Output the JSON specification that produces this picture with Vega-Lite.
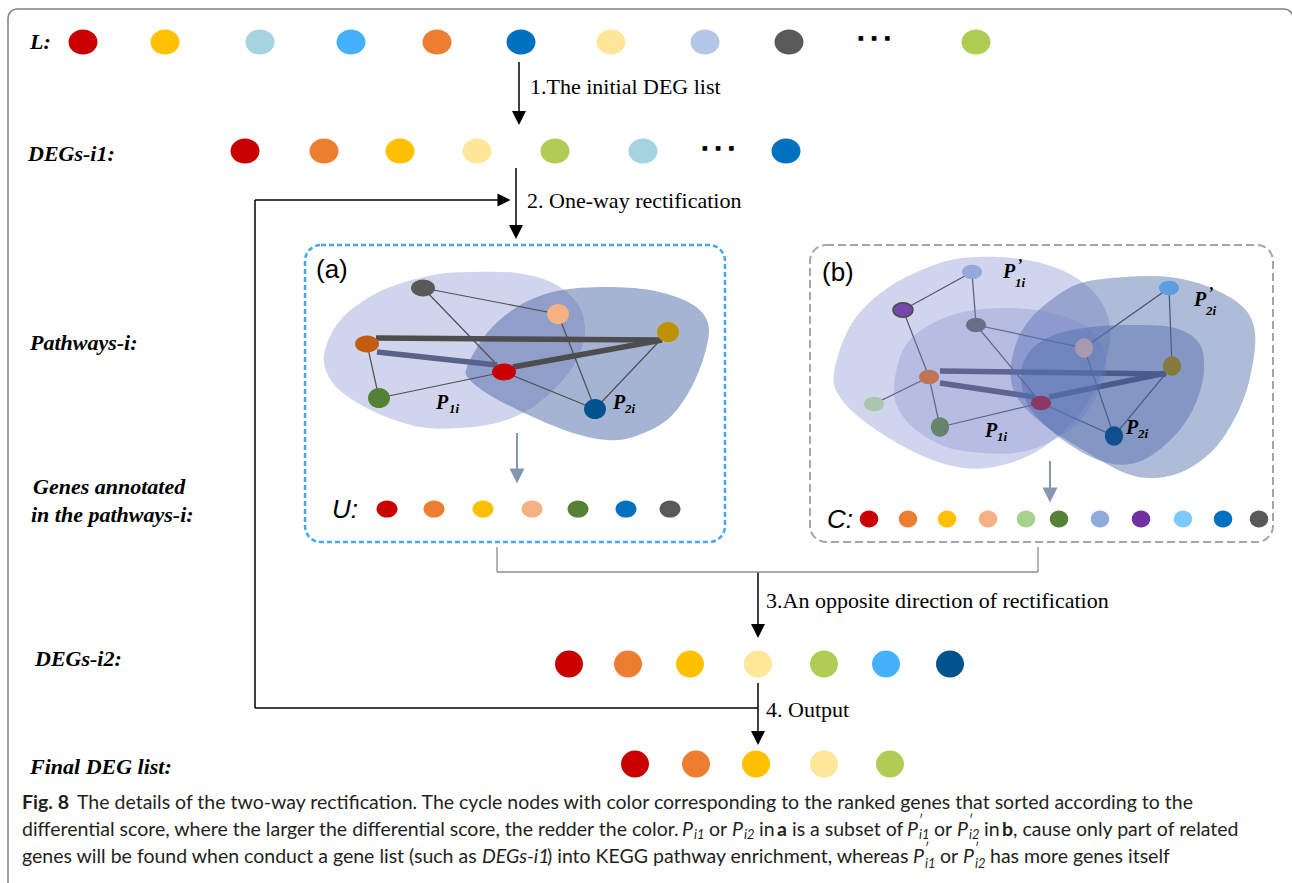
{
"$schema":"https://vega.github.io/schema/vega-lite/v6.json",
"width":1292,"height":883,"autosize":{"type":"none"},"padding":0,"background":"white",
"config":{"view":{"stroke":null}},
"datasets":{
"boxes":[{"kind":"frame","x":8,"y":9,"x2":1293,"y2":960},{"kind":"pa","x":305,"y":245,"x2":725,"y2":542},{"kind":"pb","x":810,"y":245,"x2":1273,"y2":542}],
"segs":[
{"kind":"black","x":519,"y":62,"x2":519,"y2":115},{"kind":"black","x":516,"y":168,"x2":516,"y2":229},{"kind":"black","x":255,"y":200,"x2":502,"y2":200},{"kind":"black","x":255,"y":200,"x2":255,"y2":708},{"kind":"black","x":255,"y":708,"x2":758,"y2":708},{"kind":"black","x":758,"y":572,"x2":758,"y2":627},{"kind":"black","x":758,"y":683,"x2":758,"y2":735},
{"kind":"bracket","x":497,"y":547,"x2":497,"y2":572},{"kind":"bracket","x":497,"y":572,"x2":1038,"y2":572},{"kind":"bracket","x":1038,"y":547,"x2":1038,"y2":572},
{"kind":"arrowblue","x":517,"y":433,"x2":517,"y2":472},{"kind":"arrowblue","x":1050,"y":461,"x2":1050,"y2":490},
{"kind":"thin_a","x":423,"y":288,"x2":558,"y2":314},{"kind":"thin_a","x":423,"y":288,"x2":504,"y2":372},{"kind":"thin_a","x":558,"y":314,"x2":595,"y2":409},{"kind":"thin_a","x":668,"y":332,"x2":595,"y2":409},{"kind":"thin_a","x":504,"y":372,"x2":595,"y2":409},{"kind":"thin_a","x":367,"y":344,"x2":379,"y2":398},{"kind":"thin_a","x":379,"y":398,"x2":504,"y2":372},
{"kind":"thick_a","x":376,"y":338,"x2":662,"y2":340},{"kind":"thick_a","x":513,"y":367,"x2":662,"y2":340},
{"kind":"slate_a","x":377,"y":352,"x2":497,"y2":365},
{"kind":"thin_b","x":903,"y":310,"x2":972,"y2":272},{"kind":"thin_b","x":972,"y":272,"x2":976,"y2":325},{"kind":"thin_b","x":976,"y":325,"x2":1084,"y2":348},{"kind":"thin_b","x":976,"y":325,"x2":1041,"y2":403},{"kind":"thin_b","x":903,"y":310,"x2":929,"y2":377},{"kind":"thin_b","x":929,"y":377,"x2":874,"y2":404},{"kind":"thin_b","x":929,"y":377,"x2":940,"y2":427},{"kind":"thin_b","x":940,"y":427,"x2":1041,"y2":403},{"kind":"thin_b","x":1084,"y":348,"x2":1169,"y2":288},{"kind":"thin_b","x":1169,"y":288,"x2":1172,"y2":366},{"kind":"thin_b","x":1084,"y":348,"x2":1114,"y2":436},{"kind":"thin_b","x":1172,"y":366,"x2":1114,"y2":436},{"kind":"thin_b","x":1041,"y":403,"x2":1114,"y2":436},
{"kind":"thick_b","x":940,"y":371,"x2":1166,"y2":374},{"kind":"thick_b","x":940,"y":383,"x2":1034,"y2":397},{"kind":"thick_b","x":1049,"y":397,"x2":1166,"y2":373}
],
"heads":[{"kind":"black","dir":"down","x":519,"y":118},{"kind":"black","dir":"down","x":516,"y":232},{"kind":"black","dir":"down","x":758,"y":631},{"kind":"black","dir":"down","x":758,"y":738},{"kind":"black","dir":"right","x":504,"y":200},{"kind":"blue","dir":"down","x":517,"y":476},{"kind":"blue","dir":"down","x":1050,"y":495}],
"dots":[
{"row":"L","gene":"red","x":83,"y":42},{"row":"L","gene":"yellow","x":165,"y":42},{"row":"L","gene":"lightblue","x":260,"y":42},{"row":"L","gene":"skyblue","x":351,"y":42},{"row":"L","gene":"orange","x":437,"y":42},{"row":"L","gene":"blue","x":521,"y":42},{"row":"L","gene":"lightyellow","x":611,"y":42},{"row":"L","gene":"lavender","x":705,"y":42},{"row":"L","gene":"darkgray","x":789,"y":42},{"row":"L","gene":"green","x":976,"y":42},
{"row":"i1","gene":"red","x":245,"y":151},{"row":"i1","gene":"orange","x":324,"y":151},{"row":"i1","gene":"yellow","x":400,"y":151},{"row":"i1","gene":"lightyellow","x":477,"y":151},{"row":"i1","gene":"green","x":555,"y":151},{"row":"i1","gene":"lightblue","x":643,"y":151},{"row":"i1","gene":"blue","x":786,"y":151},
{"row":"i2","gene":"red","x":569,"y":664},{"row":"i2","gene":"orange","x":628,"y":664},{"row":"i2","gene":"yellow","x":690,"y":664},{"row":"i2","gene":"lightyellow","x":758,"y":664},{"row":"i2","gene":"green","x":824,"y":664},{"row":"i2","gene":"skyblue","x":886,"y":664},{"row":"i2","gene":"darkblue","x":950,"y":664},
{"row":"final","gene":"red","x":635,"y":764},{"row":"final","gene":"orange","x":696,"y":764},{"row":"final","gene":"yellow","x":756,"y":764},{"row":"final","gene":"lightyellow","x":824,"y":764},{"row":"final","gene":"green","x":890,"y":764},
{"row":"U","gene":"red","x":387,"y":509},{"row":"U","gene":"orange","x":434,"y":509},{"row":"U","gene":"yellow","x":483,"y":509},{"row":"U","gene":"peach","x":532,"y":509},{"row":"U","gene":"darkgreen","x":578,"y":509},{"row":"U","gene":"blue","x":626,"y":509},{"row":"U","gene":"darkgray","x":670,"y":509},
{"row":"C","gene":"red","x":869,"y":519},{"row":"C","gene":"orange","x":908,"y":519},{"row":"C","gene":"yellow","x":947,"y":519},{"row":"C","gene":"peach","x":988,"y":519},{"row":"C","gene":"lightgreen","x":1026,"y":519},{"row":"C","gene":"darkgreen","x":1059,"y":519},{"row":"C","gene":"cornflower","x":1100,"y":519},{"row":"C","gene":"purple","x":1141,"y":519},{"row":"C","gene":"lightsky","x":1183,"y":519},{"row":"C","gene":"blue","x":1223,"y":519},{"row":"C","gene":"darkgray","x":1259,"y":519},
{"row":"na","gene":"darkgray","x":423,"y":288},{"row":"na","gene":"peach","x":558,"y":314},{"row":"na","gene":"brownorange","x":367,"y":344},{"row":"na","gene":"gold","x":668,"y":332},{"row":"na","gene":"red","x":504,"y":372},{"row":"na","gene":"darkgreen","x":379,"y":398},{"row":"na","gene":"navy","x":595,"y":409},
{"row":"nb","gene":"b_lav","x":972,"y":272},{"row":"nb","gene":"b_purple","x":903,"y":310},{"row":"nb","gene":"b_gray","x":976,"y":325},{"row":"nb","gene":"b_peach","x":1084,"y":348},{"row":"nb","gene":"b_sky","x":1169,"y":288},{"row":"nb","gene":"b_gold","x":1172,"y":366},{"row":"nb","gene":"b_orange","x":929,"y":377},{"row":"nb","gene":"b_lgreen","x":874,"y":404},{"row":"nb","gene":"b_green","x":940,"y":427},{"row":"nb","gene":"b_red","x":1041,"y":403},{"row":"nb","gene":"b_navy","x":1114,"y":436}
],
"blobs":[
{"blob":"P1a","i":1,"x":325,"y":350},{"blob":"P1a","i":2,"x":343,"y":317},{"blob":"P1a","i":3,"x":383,"y":290},{"blob":"P1a","i":4,"x":433,"y":275},{"blob":"P1a","i":5,"x":473,"y":272},{"blob":"P1a","i":6,"x":517,"y":273},{"blob":"P1a","i":7,"x":553,"y":283},{"blob":"P1a","i":8,"x":577,"y":303},{"blob":"P1a","i":9,"x":585,"y":327},{"blob":"P1a","i":10,"x":580,"y":353},{"blob":"P1a","i":11,"x":563,"y":380},{"blob":"P1a","i":12,"x":533,"y":407},{"blob":"P1a","i":13,"x":500,"y":422},{"blob":"P1a","i":14,"x":460,"y":428},{"blob":"P1a","i":15,"x":420,"y":427},{"blob":"P1a","i":16,"x":377,"y":413},{"blob":"P1a","i":17,"x":343,"y":393},{"blob":"P1a","i":18,"x":327,"y":373},
{"blob":"P2a","i":1,"x":467,"y":367},{"blob":"P2a","i":2,"x":487,"y":333},{"blob":"P2a","i":3,"x":517,"y":307},{"blob":"P2a","i":4,"x":553,"y":292},{"blob":"P2a","i":5,"x":600,"y":287},{"blob":"P2a","i":6,"x":650,"y":290},{"blob":"P2a","i":7,"x":690,"y":303},{"blob":"P2a","i":8,"x":708,"y":323},{"blob":"P2a","i":9,"x":705,"y":353},{"blob":"P2a","i":10,"x":690,"y":390},{"blob":"P2a","i":11,"x":667,"y":420},{"blob":"P2a","i":12,"x":633,"y":437},{"blob":"P2a","i":13,"x":607,"y":440},{"blob":"P2a","i":14,"x":573,"y":433},{"blob":"P2a","i":15,"x":533,"y":417},{"blob":"P2a","i":16,"x":493,"y":397},{"blob":"P2a","i":17,"x":470,"y":380},
{"blob":"P1pb","i":1,"x":834,"y":373},{"blob":"P1pb","i":2,"x":852,"y":323},{"blob":"P1pb","i":3,"x":889,"y":287},{"blob":"P1pb","i":4,"x":940,"y":263},{"blob":"P1pb","i":5,"x":980,"y":257},{"blob":"P1pb","i":6,"x":1027,"y":260},{"blob":"P1pb","i":7,"x":1068,"y":273},{"blob":"P1pb","i":8,"x":1098,"y":297},{"blob":"P1pb","i":9,"x":1110,"y":327},{"blob":"P1pb","i":10,"x":1106,"y":360},{"blob":"P1pb","i":11,"x":1091,"y":397},{"blob":"P1pb","i":12,"x":1068,"y":427},{"blob":"P1pb","i":13,"x":1034,"y":453},{"blob":"P1pb","i":14,"x":994,"y":467},{"blob":"P1pb","i":15,"x":957,"y":467},{"blob":"P1pb","i":16,"x":916,"y":453},{"blob":"P1pb","i":17,"x":872,"y":427},{"blob":"P1pb","i":18,"x":842,"y":400},
{"blob":"P2pb","i":1,"x":1011,"y":380},{"blob":"P2pb","i":2,"x":1014,"y":350},{"blob":"P2pb","i":3,"x":1027,"y":323},{"blob":"P2pb","i":4,"x":1051,"y":300},{"blob":"P2pb","i":5,"x":1081,"y":283},{"blob":"P2pb","i":6,"x":1125,"y":277},{"blob":"P2pb","i":7,"x":1169,"y":277},{"blob":"P2pb","i":8,"x":1209,"y":287},{"blob":"P2pb","i":9,"x":1243,"y":307},{"blob":"P2pb","i":10,"x":1255,"y":333},{"blob":"P2pb","i":11,"x":1251,"y":373},{"blob":"P2pb","i":12,"x":1239,"y":410},{"blob":"P2pb","i":13,"x":1216,"y":447},{"blob":"P2pb","i":14,"x":1186,"y":470},{"blob":"P2pb","i":15,"x":1155,"y":478},{"blob":"P2pb","i":16,"x":1125,"y":473},{"blob":"P2pb","i":17,"x":1088,"y":453},{"blob":"P2pb","i":18,"x":1047,"y":427},{"blob":"P2pb","i":19,"x":1021,"y":403},
{"blob":"P1b","i":1,"x":894,"y":387},{"blob":"P1b","i":2,"x":903,"y":350},{"blob":"P1b","i":3,"x":926,"y":327},{"blob":"P1b","i":4,"x":963,"y":312},{"blob":"P1b","i":5,"x":1007,"y":308},{"blob":"P1b","i":6,"x":1047,"y":312},{"blob":"P1b","i":7,"x":1081,"y":323},{"blob":"P1b","i":8,"x":1101,"y":343},{"blob":"P1b","i":9,"x":1106,"y":367},{"blob":"P1b","i":10,"x":1098,"y":393},{"blob":"P1b","i":11,"x":1081,"y":420},{"blob":"P1b","i":12,"x":1054,"y":440},{"blob":"P1b","i":13,"x":1021,"y":452},{"blob":"P1b","i":14,"x":984,"y":453},{"blob":"P1b","i":15,"x":946,"y":447},{"blob":"P1b","i":16,"x":916,"y":430},{"blob":"P1b","i":17,"x":899,"y":410},
{"blob":"P2b","i":1,"x":1021,"y":373},{"blob":"P2b","i":2,"x":1031,"y":350},{"blob":"P2b","i":3,"x":1054,"y":335},{"blob":"P2b","i":4,"x":1091,"y":327},{"blob":"P2b","i":5,"x":1135,"y":325},{"blob":"P2b","i":6,"x":1175,"y":328},{"blob":"P2b","i":7,"x":1199,"y":343},{"blob":"P2b","i":8,"x":1204,"y":370},{"blob":"P2b","i":9,"x":1197,"y":400},{"blob":"P2b","i":10,"x":1182,"y":427},{"blob":"P2b","i":11,"x":1159,"y":450},{"blob":"P2b","i":12,"x":1135,"y":463},{"blob":"P2b","i":13,"x":1108,"y":463},{"blob":"P2b","i":14,"x":1078,"y":450},{"blob":"P2b","i":15,"x":1047,"y":427},{"blob":"P2b","i":16,"x":1027,"y":403}
],
"texts":[
{"role":"left","x":30,"y":42,"t":"L:"},{"role":"left","x":28,"y":154,"t":"DEGs-i1:"},{"role":"left","x":30,"y":343,"t":"Pathways-i:"},{"role":"left","x":33,"y":487,"t":"Genes annotated"},{"role":"left","x":31,"y":515,"t":"in the pathways-i:"},{"role":"left","x":35,"y":659,"t":"DEGs-i2:"},{"role":"left","x":30,"y":767,"t":"Final DEG list:"},
{"role":"step","x":530,"y":87,"t":"1.The initial DEG list"},{"role":"step","x":527,"y":201,"t":"2. One-way rectification"},{"role":"step","x":766,"y":601,"t":"3.An opposite direction of rectification"},{"role":"step","x":766,"y":710,"t":"4. Output"},
{"role":"tag","x":316,"y":270,"t":"(a)"},{"role":"tag","x":822,"y":273,"t":"(b)"},
{"role":"uc","x":332,"y":510,"t":"U:"},{"role":"uc","x":827,"y":520,"t":"C:"},
{"role":"ellipsis","x":874,"y":38,"t":"■\u00a0\u00a0\u00a0\u00a0■\u00a0\u00a0\u00a0\u00a0■"},{"role":"ellipsis","x":718,"y":148,"t":"■\u00a0\u00a0\u00a0\u00a0■\u00a0\u00a0\u00a0\u00a0■"},
{"role":"pP","x":436,"y":403,"t":"P"},{"role":"pP","x":613,"y":403,"t":"P"},{"role":"pP","x":1003,"y":272,"t":"P"},{"role":"pP","x":1194,"y":300,"t":"P"},{"role":"pP","x":985,"y":431,"t":"P"},{"role":"pP","x":1126,"y":428,"t":"P"},
{"role":"pprime","x":1017,"y":265,"t":"’"},{"role":"pprime","x":1208,"y":293,"t":"’"},
{"role":"psub","x":449,"y":409,"t":"1i"},{"role":"psub","x":625,"y":409,"t":"2i"},{"role":"psub","x":1015,"y":283,"t":"1i"},{"role":"psub","x":1206,"y":311,"t":"2i"},{"role":"psub","x":997,"y":437,"t":"1i"},{"role":"psub","x":1138,"y":434,"t":"2i"},
{"role":"capbold","x":22,"y":803,"t":"Fig. 8"},{"role":"capbold","x":777,"y":830,"t":"a"},{"role":"capbold","x":1002,"y":830,"t":"b"},
{"role":"capreg","x":77,"y":803,"t":"The details of the two-way rectification. The cycle nodes with color corresponding to the ranked genes that sorted according to the"},
{"role":"capreg","x":22,"y":830,"t":"differential score, where the larger the differential score, the redder the color."},
{"role":"capreg","x":709,"y":830,"t":"or"},{"role":"capreg","x":759,"y":830,"t":"in"},{"role":"capreg","x":792,"y":830,"t":"is a subset of"},{"role":"capreg","x":934,"y":830,"t":"or"},{"role":"capreg","x":984,"y":830,"t":"in"},{"role":"capreg","x":1013,"y":830,"t":", cause only part of related"},
{"role":"capreg","x":22,"y":857,"t":"genes will be found when conduct a gene list (such as"},{"role":"capreg","x":547,"y":857,"t":") into KEGG pathway enrichment, whereas"},{"role":"capreg","x":940,"y":857,"t":"or"},{"role":"capreg","x":990,"y":857,"t":"has more genes itself"},
{"role":"capit","x":682,"y":830,"t":"P"},{"role":"capit","x":732,"y":830,"t":"P"},{"role":"capit","x":907,"y":830,"t":"P"},{"role":"capit","x":957,"y":830,"t":"P"},{"role":"capit","x":482,"y":857,"t":"DEGs-i1"},{"role":"capit","x":913,"y":857,"t":"P"},{"role":"capit","x":963,"y":857,"t":"P"},
{"role":"capsub","x":694,"y":835,"t":"i1"},{"role":"capsub","x":744,"y":835,"t":"i2"},{"role":"capsub","x":919,"y":835,"t":"i1"},{"role":"capsub","x":969,"y":835,"t":"i2"},{"role":"capsub","x":925,"y":864,"t":"i1"},{"role":"capsub","x":975,"y":864,"t":"i2"},
{"role":"capprime","x":919,"y":821,"t":"′"},{"role":"capprime","x":969,"y":821,"t":"′"},{"role":"capprime","x":925,"y":849,"t":"′"},{"role":"capprime","x":975,"y":849,"t":"′"}
]
},
"encoding":{
"x":{"field":"x","type":"quantitative","scale":{"domain":[0,1292],"nice":false,"zero":false},"axis":null},
"y":{"field":"y","type":"quantitative","scale":{"domain":[0,883],"nice":false,"zero":false,"reverse":true},"axis":null}
},
"layer":[
{"data":{"name":"boxes"},"transform":[{"filter":"datum.kind=='frame'"}],"mark":{"type":"rect","fillOpacity":0,"stroke":"#808080","strokeWidth":1.5,"cornerRadius":9},"encoding":{"x2":{"field":"x2"},"y2":{"field":"y2"}}},
{"data":{"name":"boxes"},"transform":[{"filter":"datum.kind=='pa'"}],"mark":{"type":"rect","fillOpacity":0,"stroke":"#3fa9f5","strokeWidth":2.5,"strokeDash":[5,3],"cornerRadius":16},"encoding":{"x2":{"field":"x2"},"y2":{"field":"y2"}}},
{"data":{"name":"boxes"},"transform":[{"filter":"datum.kind=='pb'"}],"mark":{"type":"rect","fillOpacity":0,"stroke":"#a6a6a6","strokeWidth":2,"strokeDash":[8,4],"cornerRadius":16},"encoding":{"x2":{"field":"x2"},"y2":{"field":"y2"}}},
{"data":{"name":"segs"},"transform":[{"filter":"datum.kind=='black'"}],"mark":{"type":"rule","color":"#000000","strokeWidth":1.5},"encoding":{"x2":{"field":"x2"},"y2":{"field":"y2"}}},
{"data":{"name":"segs"},"transform":[{"filter":"datum.kind=='bracket'"}],"mark":{"type":"rule","color":"#8c8c8c","strokeWidth":1.3},"encoding":{"x2":{"field":"x2"},"y2":{"field":"y2"}}},
{"data":{"name":"segs"},"transform":[{"filter":"datum.kind=='arrowblue'"}],"mark":{"type":"rule","color":"#8497b0","strokeWidth":2},"encoding":{"x2":{"field":"x2"},"y2":{"field":"y2"}}},
{"data":{"name":"heads"},"transform":[{"filter":"datum.kind=='black'&&datum.dir=='down'"}],"mark":{"type":"point","filled":true,"opacity":1,"color":"#000000","shape":"M-1,-1L1,-1L0,1Z","size":196}},
{"data":{"name":"heads"},"transform":[{"filter":"datum.kind=='black'&&datum.dir=='right'"}],"mark":{"type":"point","filled":true,"opacity":1,"color":"#000000","shape":"M-1,-1L1,0L-1,1Z","size":169}},
{"data":{"name":"heads"},"transform":[{"filter":"datum.kind=='blue'"}],"mark":{"type":"point","filled":true,"opacity":1,"color":"#8497b0","shape":"M-1,-1L1,-1L0,1Z","size":225}},
{"data":{"name":"texts"},"transform":[{"filter":"datum.role=='left'"}],"mark":{"type":"text","font":"Liberation Serif","fontSize":22,"fontStyle":"italic","fontWeight":"bold","align":"left","baseline":"middle","color":"#000000"},"encoding":{"text":{"field":"t"}}},
{"data":{"name":"texts"},"transform":[{"filter":"datum.role=='step'"}],"mark":{"type":"text","font":"Liberation Serif","fontSize":22,"align":"left","baseline":"middle","color":"#000000"},"encoding":{"text":{"field":"t"}}},
{"data":{"name":"texts"},"transform":[{"filter":"datum.role=='ellipsis'"}],"mark":{"type":"text","font":"DejaVu Sans","fontSize":6,"align":"center","baseline":"middle","color":"#000000"},"encoding":{"text":{"field":"t"}}},
{"data":{"name":"dots"},"transform":[{"filter":"datum.row=='L'||datum.row=='i1'"}],"mark":{"type":"point","filled":true,"opacity":1,"strokeWidth":0,"shape":"M-1,0A1,0.87,0,1,1,1,0A1,0.87,0,1,1,-1,0Z","size":841},"encoding":{"color":{"field":"gene","type":"nominal","legend":null,"scale":{"domain":["red","yellow","lightblue","skyblue","orange","blue","lightyellow","lavender","darkgray","green","darkblue","brownorange","gold","darkgreen","peach","navy","purple","lightgreen","cornflower","lightsky","b_lav","b_purple","b_gray","b_peach","b_sky","b_gold","b_orange","b_lgreen","b_green","b_red","b_navy"],"range":["#c80000","#ffc000","#a5d4de","#45b0fc","#ed7d31","#0070c0","#ffe699","#b4c7e7","#595959","#b0cc55","#00538c","#c55a11","#bf9000","#548235","#f4b183","#00538f","#7030a0","#a9d18e","#8faadc","#7fc9ff","#94a8dc","#7448a8","#6b6d88","#a59aae","#5c9ee0","#857a3e","#c27456","#a9c7ae","#64846c","#8a3962","#0f4f8e"]}}}},
{"data":{"name":"dots"},"transform":[{"filter":"datum.row=='i2'||datum.row=='final'"}],"mark":{"type":"point","filled":true,"opacity":1,"strokeWidth":0,"shape":"M-1,0A1,0.96,0,1,1,1,0A1,0.96,0,1,1,-1,0Z","size":784},"encoding":{"color":{"field":"gene","type":"nominal","legend":null,"scale":{"domain":["red","yellow","lightblue","skyblue","orange","blue","lightyellow","lavender","darkgray","green","darkblue","brownorange","gold","darkgreen","peach","navy","purple","lightgreen","cornflower","lightsky","b_lav","b_purple","b_gray","b_peach","b_sky","b_gold","b_orange","b_lgreen","b_green","b_red","b_navy"],"range":["#c80000","#ffc000","#a5d4de","#45b0fc","#ed7d31","#0070c0","#ffe699","#b4c7e7","#595959","#b0cc55","#00538c","#c55a11","#bf9000","#548235","#f4b183","#00538f","#7030a0","#a9d18e","#8faadc","#7fc9ff","#94a8dc","#7448a8","#6b6d88","#a59aae","#5c9ee0","#857a3e","#c27456","#a9c7ae","#64846c","#8a3962","#0f4f8e"]}}}},
{"data":{"name":"blobs"},"transform":[{"filter":"datum.blob=='P1a'"}],"mark":{"type":"line","interpolate":"cardinal-closed","fill":"#7b83cc","fillOpacity":0.35,"strokeOpacity":0},"encoding":{"order":{"field":"i","type":"quantitative"}}},
{"data":{"name":"blobs"},"transform":[{"filter":"datum.blob=='P2a'"}],"mark":{"type":"line","interpolate":"cardinal-closed","fill":"#4d6aa8","fillOpacity":0.5,"strokeOpacity":0},"encoding":{"order":{"field":"i","type":"quantitative"}}},
{"data":{"name":"segs"},"transform":[{"filter":"datum.kind=='thin_a'"}],"mark":{"type":"rule","color":"#505050","strokeWidth":1.2},"encoding":{"x2":{"field":"x2"},"y2":{"field":"y2"}}},
{"data":{"name":"segs"},"transform":[{"filter":"datum.kind=='thick_a'"}],"mark":{"type":"rule","color":"#4d4d4d","strokeWidth":5.5},"encoding":{"x2":{"field":"x2"},"y2":{"field":"y2"}}},
{"data":{"name":"segs"},"transform":[{"filter":"datum.kind=='slate_a'"}],"mark":{"type":"rule","color":"#5b6289","strokeWidth":5.5},"encoding":{"x2":{"field":"x2"},"y2":{"field":"y2"}}},
{"data":{"name":"dots"},"transform":[{"filter":"datum.row=='na'&&indexof(['darkgray','brownorange','red'],datum.gene)>=0"}],"mark":{"type":"point","filled":true,"opacity":1,"strokeWidth":0,"shape":"M-1,0A1,0.7,0,1,1,1,0A1,0.7,0,1,1,-1,0Z","size":576},"encoding":{"color":{"field":"gene","type":"nominal","legend":null,"scale":{"domain":["red","yellow","lightblue","skyblue","orange","blue","lightyellow","lavender","darkgray","green","darkblue","brownorange","gold","darkgreen","peach","navy","purple","lightgreen","cornflower","lightsky","b_lav","b_purple","b_gray","b_peach","b_sky","b_gold","b_orange","b_lgreen","b_green","b_red","b_navy"],"range":["#c80000","#ffc000","#a5d4de","#45b0fc","#ed7d31","#0070c0","#ffe699","#b4c7e7","#595959","#b0cc55","#00538c","#c55a11","#bf9000","#548235","#f4b183","#00538f","#7030a0","#a9d18e","#8faadc","#7fc9ff","#94a8dc","#7448a8","#6b6d88","#a59aae","#5c9ee0","#857a3e","#c27456","#a9c7ae","#64846c","#8a3962","#0f4f8e"]}}}},
{"data":{"name":"dots"},"transform":[{"filter":"datum.row=='na'&&indexof(['darkgray','brownorange','red'],datum.gene)<0"}],"mark":{"type":"point","filled":true,"opacity":1,"strokeWidth":0,"shape":"M-1,0A1,0.92,0,1,1,1,0A1,0.92,0,1,1,-1,0Z","size":484},"encoding":{"color":{"field":"gene","type":"nominal","legend":null,"scale":{"domain":["red","yellow","lightblue","skyblue","orange","blue","lightyellow","lavender","darkgray","green","darkblue","brownorange","gold","darkgreen","peach","navy","purple","lightgreen","cornflower","lightsky","b_lav","b_purple","b_gray","b_peach","b_sky","b_gold","b_orange","b_lgreen","b_green","b_red","b_navy"],"range":["#c80000","#ffc000","#a5d4de","#45b0fc","#ed7d31","#0070c0","#ffe699","#b4c7e7","#595959","#b0cc55","#00538c","#c55a11","#bf9000","#548235","#f4b183","#00538f","#7030a0","#a9d18e","#8faadc","#7fc9ff","#94a8dc","#7448a8","#6b6d88","#a59aae","#5c9ee0","#857a3e","#c27456","#a9c7ae","#64846c","#8a3962","#0f4f8e"]}}}},
{"data":{"name":"dots"},"transform":[{"filter":"datum.row=='U'"}],"mark":{"type":"point","filled":true,"opacity":1,"strokeWidth":0,"shape":"M-1,0A1,0.82,0,1,1,1,0A1,0.82,0,1,1,-1,0Z","size":441},"encoding":{"color":{"field":"gene","type":"nominal","legend":null,"scale":{"domain":["red","yellow","lightblue","skyblue","orange","blue","lightyellow","lavender","darkgray","green","darkblue","brownorange","gold","darkgreen","peach","navy","purple","lightgreen","cornflower","lightsky","b_lav","b_purple","b_gray","b_peach","b_sky","b_gold","b_orange","b_lgreen","b_green","b_red","b_navy"],"range":["#c80000","#ffc000","#a5d4de","#45b0fc","#ed7d31","#0070c0","#ffe699","#b4c7e7","#595959","#b0cc55","#00538c","#c55a11","#bf9000","#548235","#f4b183","#00538f","#7030a0","#a9d18e","#8faadc","#7fc9ff","#94a8dc","#7448a8","#6b6d88","#a59aae","#5c9ee0","#857a3e","#c27456","#a9c7ae","#64846c","#8a3962","#0f4f8e"]}}}},
{"data":{"name":"segs"},"transform":[{"filter":"datum.kind=='thin_b'"}],"mark":{"type":"rule","color":"#404040","strokeWidth":1.2},"encoding":{"x2":{"field":"x2"},"y2":{"field":"y2"}}},
{"data":{"name":"segs"},"transform":[{"filter":"datum.kind=='thick_b'"}],"mark":{"type":"rule","color":"#3c3c4c","strokeWidth":5.5},"encoding":{"x2":{"field":"x2"},"y2":{"field":"y2"}}},
{"data":{"name":"blobs"},"transform":[{"filter":"datum.blob=='P1pb'"}],"mark":{"type":"line","interpolate":"cardinal-closed","fill":"#7b83cc","fillOpacity":0.35,"strokeOpacity":0},"encoding":{"order":{"field":"i","type":"quantitative"}}},
{"data":{"name":"blobs"},"transform":[{"filter":"datum.blob=='P2pb'"}],"mark":{"type":"line","interpolate":"cardinal-closed","fill":"#4d6aa8","fillOpacity":0.45,"strokeOpacity":0},"encoding":{"order":{"field":"i","type":"quantitative"}}},
{"data":{"name":"blobs"},"transform":[{"filter":"datum.blob=='P1b'"}],"mark":{"type":"line","interpolate":"cardinal-closed","fill":"#7b83cc","fillOpacity":0.3,"strokeOpacity":0},"encoding":{"order":{"field":"i","type":"quantitative"}}},
{"data":{"name":"blobs"},"transform":[{"filter":"datum.blob=='P2b'"}],"mark":{"type":"line","interpolate":"cardinal-closed","fill":"#4d6aa8","fillOpacity":0.45,"strokeOpacity":0},"encoding":{"order":{"field":"i","type":"quantitative"}}},
{"data":{"name":"dots"},"transform":[{"filter":"datum.row=='nb'&&indexof(['b_peach','b_gold','b_green','b_navy','b_purple'],datum.gene)<0"}],"mark":{"type":"point","filled":true,"opacity":1,"strokeWidth":0,"shape":"M-1,0A1,0.72,0,1,1,1,0A1,0.72,0,1,1,-1,0Z","size":400},"encoding":{"color":{"field":"gene","type":"nominal","legend":null,"scale":{"domain":["red","yellow","lightblue","skyblue","orange","blue","lightyellow","lavender","darkgray","green","darkblue","brownorange","gold","darkgreen","peach","navy","purple","lightgreen","cornflower","lightsky","b_lav","b_purple","b_gray","b_peach","b_sky","b_gold","b_orange","b_lgreen","b_green","b_red","b_navy"],"range":["#c80000","#ffc000","#a5d4de","#45b0fc","#ed7d31","#0070c0","#ffe699","#b4c7e7","#595959","#b0cc55","#00538c","#c55a11","#bf9000","#548235","#f4b183","#00538f","#7030a0","#a9d18e","#8faadc","#7fc9ff","#94a8dc","#7448a8","#6b6d88","#a59aae","#5c9ee0","#857a3e","#c27456","#a9c7ae","#64846c","#8a3962","#0f4f8e"]}}}},
{"data":{"name":"dots"},"transform":[{"filter":"datum.gene=='b_purple'"}],"mark":{"type":"point","filled":true,"opacity":1,"stroke":"#4a4a4a","strokeWidth":1.5,"shape":"M-1,0A1,0.72,0,1,1,1,0A1,0.72,0,1,1,-1,0Z","size":400},"encoding":{"color":{"field":"gene","type":"nominal","legend":null,"scale":{"domain":["red","yellow","lightblue","skyblue","orange","blue","lightyellow","lavender","darkgray","green","darkblue","brownorange","gold","darkgreen","peach","navy","purple","lightgreen","cornflower","lightsky","b_lav","b_purple","b_gray","b_peach","b_sky","b_gold","b_orange","b_lgreen","b_green","b_red","b_navy"],"range":["#c80000","#ffc000","#a5d4de","#45b0fc","#ed7d31","#0070c0","#ffe699","#b4c7e7","#595959","#b0cc55","#00538c","#c55a11","#bf9000","#548235","#f4b183","#00538f","#7030a0","#a9d18e","#8faadc","#7fc9ff","#94a8dc","#7448a8","#6b6d88","#a59aae","#5c9ee0","#857a3e","#c27456","#a9c7ae","#64846c","#8a3962","#0f4f8e"]}}}},
{"data":{"name":"dots"},"transform":[{"filter":"datum.row=='nb'&&indexof(['b_peach','b_gold','b_green','b_navy'],datum.gene)>=0"}],"mark":{"type":"point","filled":true,"opacity":1,"strokeWidth":0,"shape":"M-0.93,0A0.93,1,0,1,1,0.93,0A0.93,1,0,1,1,-0.93,0Z","size":380},"encoding":{"color":{"field":"gene","type":"nominal","legend":null,"scale":{"domain":["red","yellow","lightblue","skyblue","orange","blue","lightyellow","lavender","darkgray","green","darkblue","brownorange","gold","darkgreen","peach","navy","purple","lightgreen","cornflower","lightsky","b_lav","b_purple","b_gray","b_peach","b_sky","b_gold","b_orange","b_lgreen","b_green","b_red","b_navy"],"range":["#c80000","#ffc000","#a5d4de","#45b0fc","#ed7d31","#0070c0","#ffe699","#b4c7e7","#595959","#b0cc55","#00538c","#c55a11","#bf9000","#548235","#f4b183","#00538f","#7030a0","#a9d18e","#8faadc","#7fc9ff","#94a8dc","#7448a8","#6b6d88","#a59aae","#5c9ee0","#857a3e","#c27456","#a9c7ae","#64846c","#8a3962","#0f4f8e"]}}}},
{"data":{"name":"dots"},"transform":[{"filter":"datum.row=='C'"}],"mark":{"type":"point","filled":true,"opacity":1,"strokeWidth":0,"shape":"M-1,0A1,0.92,0,1,1,1,0A1,0.92,0,1,1,-1,0Z","size":342},"encoding":{"color":{"field":"gene","type":"nominal","legend":null,"scale":{"domain":["red","yellow","lightblue","skyblue","orange","blue","lightyellow","lavender","darkgray","green","darkblue","brownorange","gold","darkgreen","peach","navy","purple","lightgreen","cornflower","lightsky","b_lav","b_purple","b_gray","b_peach","b_sky","b_gold","b_orange","b_lgreen","b_green","b_red","b_navy"],"range":["#c80000","#ffc000","#a5d4de","#45b0fc","#ed7d31","#0070c0","#ffe699","#b4c7e7","#595959","#b0cc55","#00538c","#c55a11","#bf9000","#548235","#f4b183","#00538f","#7030a0","#a9d18e","#8faadc","#7fc9ff","#94a8dc","#7448a8","#6b6d88","#a59aae","#5c9ee0","#857a3e","#c27456","#a9c7ae","#64846c","#8a3962","#0f4f8e"]}}}},
{"data":{"name":"texts"},"transform":[{"filter":"datum.role=='tag'"}],"mark":{"type":"text","font":"Liberation Sans","fontSize":26,"align":"left","baseline":"middle","color":"#000000"},"encoding":{"text":{"field":"t"}}},
{"data":{"name":"texts"},"transform":[{"filter":"datum.role=='uc'"}],"mark":{"type":"text","font":"Liberation Sans","fontSize":26,"fontStyle":"italic","align":"left","baseline":"middle","color":"#000000"},"encoding":{"text":{"field":"t"}}},
{"data":{"name":"texts"},"transform":[{"filter":"datum.role=='pP'"}],"mark":{"type":"text","font":"Liberation Serif","fontSize":20,"fontStyle":"italic","fontWeight":"bold","align":"left","baseline":"middle","color":"#000000"},"encoding":{"text":{"field":"t"}}},
{"data":{"name":"texts"},"transform":[{"filter":"datum.role=='pprime'"}],"mark":{"type":"text","font":"Liberation Serif","fontSize":16,"fontStyle":"italic","fontWeight":"bold","align":"left","baseline":"middle","color":"#000000"},"encoding":{"text":{"field":"t"}}},
{"data":{"name":"texts"},"transform":[{"filter":"datum.role=='psub'"}],"mark":{"type":"text","font":"Liberation Serif","fontSize":13,"fontStyle":"italic","fontWeight":"bold","align":"left","baseline":"middle","color":"#000000"},"encoding":{"text":{"field":"t"}}},
{"data":{"name":"texts"},"transform":[{"filter":"datum.role=='capbold'"}],"mark":{"type":"text","font":"Lato","fontSize":19.5,"fontWeight":"bold","align":"left","baseline":"middle","color":"#231f20"},"encoding":{"text":{"field":"t"}}},
{"data":{"name":"texts"},"transform":[{"filter":"datum.role=='capreg'"}],"mark":{"type":"text","font":"Lato","fontSize":19.5,"align":"left","baseline":"middle","color":"#231f20"},"encoding":{"text":{"field":"t"}}},
{"data":{"name":"texts"},"transform":[{"filter":"datum.role=='capit'"}],"mark":{"type":"text","font":"Lato","fontSize":19.5,"fontStyle":"italic","align":"left","baseline":"middle","color":"#231f20"},"encoding":{"text":{"field":"t"}}},
{"data":{"name":"texts"},"transform":[{"filter":"datum.role=='capsub'"}],"mark":{"type":"text","font":"Lato","fontSize":13,"fontStyle":"italic","align":"left","baseline":"middle","color":"#231f20"},"encoding":{"text":{"field":"t"}}},
{"data":{"name":"texts"},"transform":[{"filter":"datum.role=='capprime'"}],"mark":{"type":"text","font":"Lato","fontSize":13,"align":"left","baseline":"middle","color":"#231f20"},"encoding":{"text":{"field":"t"}}}
]
}
